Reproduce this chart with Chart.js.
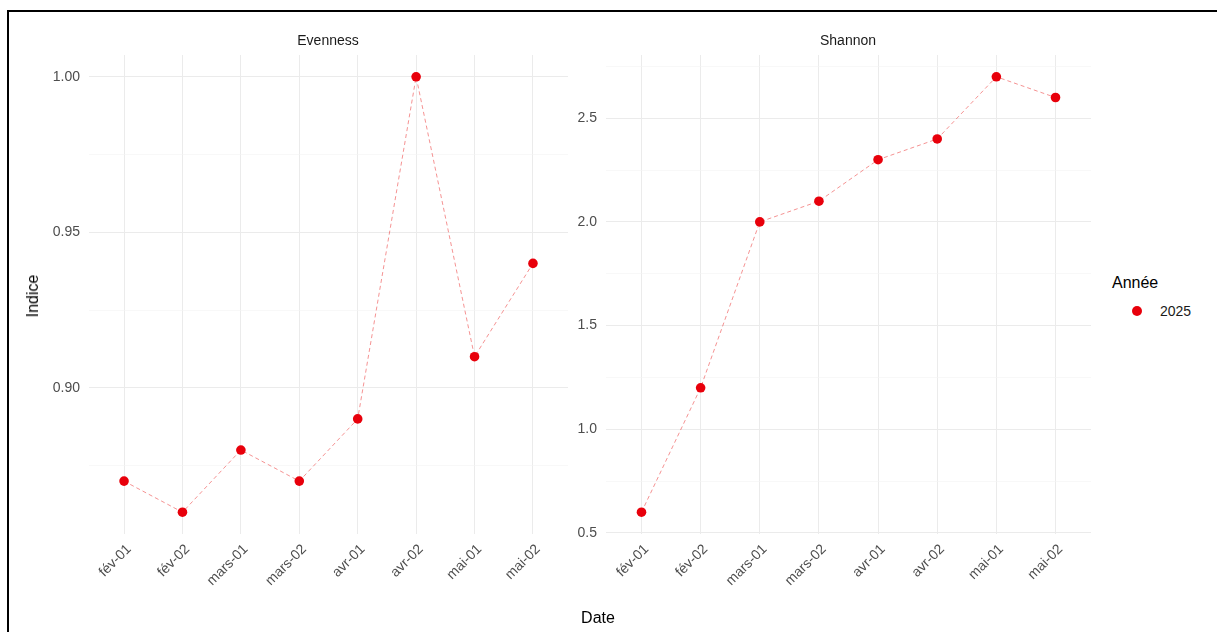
<!DOCTYPE html>
<html><head><meta charset="utf-8">
<script src="https://cdn.jsdelivr.net/npm/chart.js@4"></script>
<style>
html,body{margin:0;padding:0;background:#fff;}
body{width:1217px;height:632px;overflow:hidden;position:relative;font-family:"Liberation Sans",Arial,sans-serif;}
#frame{position:absolute;left:7px;top:10px;width:1230px;height:640px;border:2px solid #000;border-right:none;border-bottom:none;box-sizing:border-box;pointer-events:none;}
canvas{position:absolute;top:0;}
#c1{left:0;}
#c2{left:570px;}
.txt{position:absolute;white-space:nowrap;}
.strip{font-size:14px;color:#1a1a1a;top:32px;transform:translateX(-50%);}
.axtitle{font-size:16px;color:#000;}
#legend-title{left:1112px;top:274px;font-size:16px;color:#000;}
#legend-item{left:1132px;top:303px;font-size:14px;color:#1a1a1a;}
#legend-dot{display:inline-block;width:10px;height:10px;border-radius:50%;background:#e8000b;vertical-align:middle;margin-right:18px;margin-top:-2px;}
</style></head>
<body>
<canvas id="c1" width="585" height="632"></canvas>
<canvas id="c2" width="530" height="632"></canvas>
<div class="txt strip" style="left:328px;">Evenness</div>
<div class="txt strip" style="left:848px;">Shannon</div>
<div class="txt axtitle" style="left:33px;top:296px;transform:translate(-50%,-50%) rotate(-90deg);">Indice</div>
<div class="txt axtitle" style="left:598px;top:618px;transform:translate(-50%,-50%);">Date</div>
<div class="txt" id="legend-title">Année</div>
<div class="txt" id="legend-item"><span id="legend-dot"></span>2025</div>
<div id="frame"></div>
<script>
// ---- data ----
const categories = ['fév-01','fév-02','mars-01','mars-02','avr-01','avr-02','mai-01','mai-02'];
const evenness = [0.87, 0.86, 0.88, 0.87, 0.89, 1.00, 0.91, 0.94];
const shannon = [0.6, 1.2, 2.0, 2.1, 2.3, 2.4, 2.7, 2.6];
const evennessMajor = [0.90, 0.95, 1.00];
const evennessMinor = [0.875, 0.925, 0.975];
const shannonMajor = [0.5, 1.0, 1.5, 2.0, 2.5];
const shannonMinor = [0.75, 1.25, 1.75, 2.25, 2.75];
const yearLabel = '2025';

Chart.defaults.font.family = '"Liberation Sans", Arial, sans-serif';
Chart.defaults.animation = false;

function makeFacet(canvasId, values, major, minor, decimals, yWidth, padRight) {
  const lo = Math.min(...values), hi = Math.max(...values);
  const ex = (hi - lo) * 0.05;
  const allTicks = major.concat(minor).sort((a, b) => a - b);
  const isMajor = v => major.some(m => Math.abs(m - v) < 1e-9);
  return new Chart(document.getElementById(canvasId), {
    type: 'line',
    data: {
      datasets: [{
        label: yearLabel,
        data: values.map((v, i) => ({x: i, y: v})),
        borderColor: 'rgba(235,40,40,0.5)',
        borderWidth: 1,
        borderDash: [4, 3],
        pointRadius: 4.8,
        pointHoverRadius: 4.8,
        pointBackgroundColor: '#e8000b',
        pointBorderWidth: 0,
        tension: 0,
        fill: false
      }]
    },
    options: {
      responsive: false,
      devicePixelRatio: 1,
      events: [],
      layout: {padding: {top: 55, right: padRight, bottom: 0, left: 0}},
      plugins: {legend: {display: false}, tooltip: {enabled: false}},
      scales: {
        x: {
          type: 'linear',
          min: -0.6,
          max: categories.length - 1 + 0.6,
          afterBuildTicks: s => { s.ticks = categories.map((c, i) => ({value: i})); },
          afterFit: s => { s.height = 98; },
          grid: {color: '#ebebeb', lineWidth: 1, drawTicks: false},
          border: {display: false},
          ticks: {
            callback: v => categories[v],
            maxRotation: 45, minRotation: 45, autoSkip: false,
            padding: 7,
            labelOffset: 5,
            color: '#4d4d4d',
            font: {size: 14}
          }
        },
        y: {
          type: 'linear',
          min: lo - ex,
          max: hi + ex,
          afterBuildTicks: s => { s.ticks = allTicks.map(v => ({value: v})); },
          afterFit: s => { s.width = yWidth; },
          grid: {
            drawTicks: false,
            color: ctx => (ctx.tick && isMajor(ctx.tick.value)) ? '#ebebeb' : '#f4f4f4',
            lineWidth: ctx => (ctx.tick && isMajor(ctx.tick.value)) ? 1 : 0.6
          },
          border: {display: false},
          ticks: {
            callback: v => isMajor(v) ? v.toFixed(decimals) : '',
            padding: 9,
            color: '#4d4d4d',
            font: {size: 14}
          }
        }
      }
    }
  });
}

makeFacet('c1', evenness, evennessMajor, evennessMinor, 2, 89, 17);
makeFacet('c2', shannon, shannonMajor, shannonMinor, 1, 36, 9);
</script>
</body></html>
